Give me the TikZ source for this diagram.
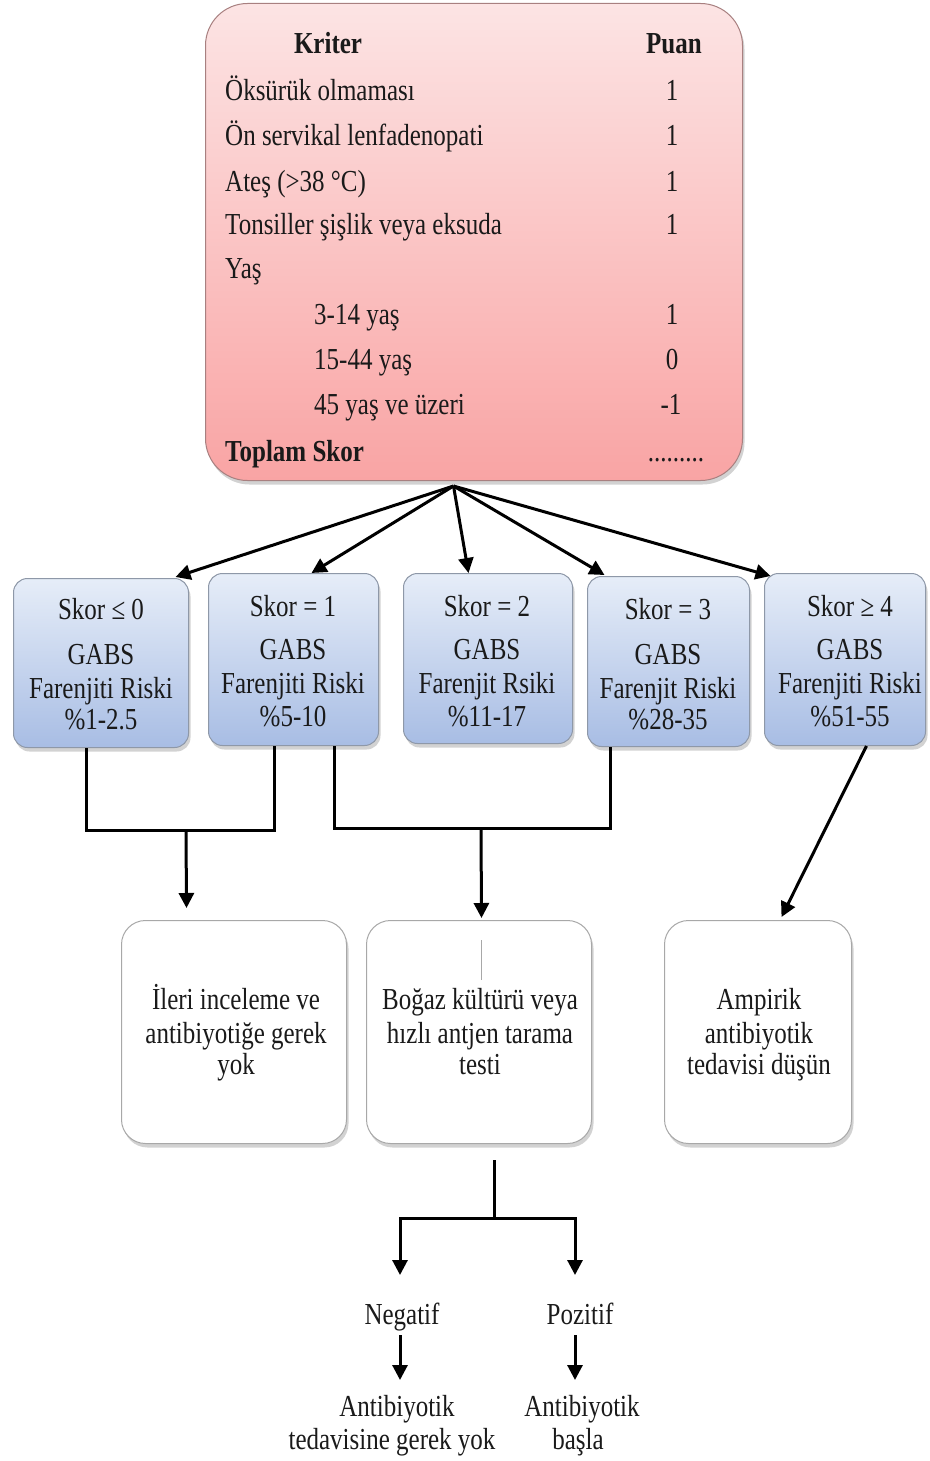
\documentclass[tikz,border=0pt]{standalone}
\usepackage{fontspec}
\setmainfont{Liberation Serif}
\usetikzlibrary{shadows,arrows.meta,calc}
\definecolor{ink}{HTML}{1A1A1A}
\definecolor{pinktop}{HTML}{FCE4E4}
\definecolor{pinkbot}{HTML}{F9A4A4}
\definecolor{pinkline}{HTML}{A88080}
\definecolor{bluetop}{HTML}{E6EDF8}
\definecolor{bluebot}{HTML}{A8BDE4}
\definecolor{blueline}{HTML}{8E98A8}
\definecolor{greyline}{HTML}{A8A8A8}
\newcommand\vs[1]{\scalebox{1}[1.22]{#1}}
\tikzset{
 txt/.style={inner sep=0pt, anchor=base, text=ink, font=\fontsize{25}{30}\selectfont},
 btxt/.style={txt, font=\fontsize{25}{30}\selectfont\bfseries},
 shad/.style={drop shadow={shadow xshift=2pt, shadow yshift=-4pt, opacity=0.35}},
 topbox/.style={draw=pinkline, line width=1pt, rounded corners=42pt, top color=pinktop, bottom color=pinkbot, minimum width=537pt, minimum height=477pt, anchor=north west, inner sep=0pt, shad},
 scorebox/.style={draw=blueline, line width=1pt, rounded corners=14pt, top color=bluetop, bottom color=bluebot, anchor=north west, inner sep=0pt, shad},
 whitebox/.style={draw=greyline, line width=1pt, rounded corners=24pt, fill=white, minimum width=225pt, minimum height=223pt, anchor=north west, inner sep=0pt, shad},
 conn/.style={line width=3pt, draw=black},
 arr/.style={conn, -{Triangle[width=15pt,length=15pt]}},
}
\begin{document}
\begin{tikzpicture}[x=1pt,y=-1pt]
\useasboundingbox[fill=white] (0,0) rectangle (929,1461);

% ---------- top criteria box ----------
\node[topbox] (top) at (205,3) {};
\node[btxt] (kriter) at (328,54) {\vs{Kriter}};
\node[btxt] (puan) at (674,54) {\vs{Puan}};
\node[txt,anchor=base west] (r1) at (225,101) {\vs{Öksürük olmaması}};
\node[txt,anchor=base west] (r2) at (225,146) {\vs{Ön servikal lenfadenopati}};
\node[txt,anchor=base west] (r3) at (225,191) {\vs{Ateş (>38 °C)}};
\node[txt,anchor=base west] (r4) at (225,234) {\vs{Tonsiller şişlik veya eksuda}};
\node[txt,anchor=base west] (r5) at (225,278) {\vs{Yaş}};
\node[txt,anchor=base west] (r6) at (314,324) {\vs{3-14 yaş}};
\node[txt,anchor=base west] (r7) at (314,369) {\vs{15-44 yaş}};
\node[txt,anchor=base west] (r8) at (314,414) {\vs{45 yaş ve üzeri}};
\node[btxt,anchor=base west] (r9) at (225,461) {\vs{Toplam Skor}};
\node[txt] (v1) at (672,101) {\vs{1}};
\node[txt] (v2) at (672,146) {\vs{1}};
\node[txt] (v3) at (672,191) {\vs{1}};
\node[txt] (v4) at (672,234) {\vs{1}};
\node[txt] (v6) at (672,324) {\vs{1}};
\node[txt] (v7) at (672,369) {\vs{0}};
\node[txt] (v8) at (671,414) {\vs{-1}};
\node[txt] (v9) at (676,461) {\vs{.........}};

% ---------- score boxes ----------
\node[scorebox, minimum width=175pt, minimum height=169pt] (s1) at (13,578) {};
\node[scorebox, minimum width=170pt, minimum height=172pt] (s2) at (208,573) {};
\node[scorebox, minimum width=169pt, minimum height=170pt] (s3) at (403,573) {};
\node[scorebox, minimum width=162pt, minimum height=170pt] (s4) at (587,576) {};
\node[scorebox, minimum width=161pt, minimum height=172pt] (s5) at (764,573) {};

\node[txt] (s1a) at (101,619) {\vs{Skor ≤ 0}};
\node[txt] (s1b) at (101,664) {\vs{GABS}};
\node[txt] (s1c) at (101,698) {\vs{Farenjiti Riski}};
\node[txt] (s1d) at (101,729) {\vs{\%1-2.5}};

\node[txt] (s2a) at (293,616) {\vs{Skor = 1}};
\node[txt] (s2b) at (293,659) {\vs{GABS}};
\node[txt] (s2c) at (293,693) {\vs{Farenjiti Riski}};
\node[txt] (s2d) at (293,726) {\vs{\%5-10}};

\node[txt] (s3a) at (487,616) {\vs{Skor = 2}};
\node[txt] (s3b) at (487,659) {\vs{GABS}};
\node[txt] (s3c) at (487,693) {\vs{Farenjit Rsiki}};
\node[txt] (s3d) at (487,726) {\vs{\%11-17}};

\node[txt] (s4a) at (668,619) {\vs{Skor = 3}};
\node[txt] (s4b) at (668,664) {\vs{GABS}};
\node[txt] (s4c) at (668,698) {\vs{Farenjit Riski}};
\node[txt] (s4d) at (668,729) {\vs{\%28-35}};

\node[txt] (s5a) at (850,616) {\vs{Skor ≥ 4}};
\node[txt] (s5b) at (850,659) {\vs{GABS}};
\node[txt] (s5c) at (850,693) {\vs{Farenjiti Riski}};
\node[txt] (s5d) at (850,726) {\vs{\%51-55}};

% ---------- fan of arrows ----------
\coordinate (hub) at ([xshift=-20.5pt,yshift=-5pt]top.south);
\draw[arr] (hub) -- ([xshift=74.5pt,yshift=1pt]s1.north);
\draw[arr] (hub) -- ([xshift=18pt]s2.north);
\draw[arr] (hub) -- ([xshift=-19.5pt]s3.north);
\draw[arr] (hub) -- ([xshift=-64pt,yshift=1pt]s4.north);
\draw[arr] (hub) -- ([xshift=-74.5pt,yshift=-3pt]s5.north);

% ---------- lower boxes ----------
\node[whitebox] (A) at (121,920) {};
\node[whitebox] (B) at (366,920) {};
\node[whitebox, minimum width=187pt] (C) at (664,920) {};

\node[txt] (a1) at (236,1009) {\vs{İleri inceleme ve}};
\node[txt] (a2) at (236,1043) {\vs{antibiyotiğe gerek}};
\node[txt] (a3) at (236,1074) {\vs{yok}};
\node[txt] (b1) at (480,1009) {\vs{Boğaz kültürü veya}};
\node[txt] (b2) at (480,1043) {\vs{hızlı antjen tarama}};
\node[txt] (b3) at (480,1074) {\vs{testi}};
\node[txt] (c1) at (759,1009) {\vs{Ampirik}};
\node[txt] (c2) at (759,1043) {\vs{antibiyotik}};
\node[txt] (c3) at (759,1074) {\vs{tedavisi düşün}};
\draw[greyline, line width=1pt] ([xshift=2.5pt,yshift=-20pt]B.north) -- ([xshift=2.5pt,yshift=-60pt]B.north);

% ---------- brackets ----------
\draw[conn] ([xshift=-14.5pt]s1.south) -- ++(0,82) -| ([xshift=-19pt]s2.south);
\coordinate (j1) at (186,829);
\draw[arr] (j1) -- ([xshift=-47.5pt,yshift=12pt]A.north);

\draw[conn] ([xshift=41pt]s2.south) -- ++(0,82) -| ([xshift=-58pt]s4.south);
\coordinate (j2) at (481,827);
\draw[arr] (j2) -- ([xshift=2.5pt,yshift=2pt]B.north);

\draw[arr] ([xshift=21.5pt]s5.south) -- ([xshift=23.5pt,yshift=3pt]C.north);

% ---------- test results ----------
\node[txt] (neg) at (402,1324) {\vs{Negatif}};
\node[txt] (pos) at (580,1324) {\vs{Pozitif}};
\node[txt] (n1) at (397,1416) {\vs{Antibiyotik}};
\node[txt] (n2) at (392,1449) {\vs{tedavisine gerek yok}};
\node[txt] (p1) at (582,1416) {\vs{Antibiyotik}};
\node[txt] (p2) at (578,1449) {\vs{başla}};

\coordinate (bt) at (494,1160);
\coordinate (bj) at (494,1218);
\draw[conn] (bt) -- (bj);
\draw[arr] (bj) -| ([xshift=-2pt,yshift=49pt]neg.base);
\draw[arr] (bj) -| ([xshift=-5pt,yshift=49pt]pos.base);
\draw[arr] ([xshift=-2pt,yshift=-11pt]neg.base) -- ([xshift=3pt,yshift=36pt]n1.base);
\draw[arr] ([xshift=-5pt,yshift=-11pt]pos.base) -- ([xshift=-7pt,yshift=36pt]p1.base);
\end{tikzpicture}
\end{document}
